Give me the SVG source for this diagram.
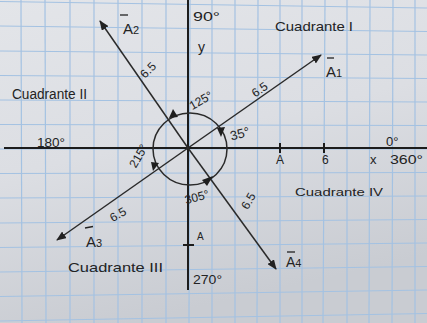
<svg xmlns="http://www.w3.org/2000/svg" width="427" height="323" viewBox="0 0 427 323">
<defs>
<linearGradient id="paper" x1="0" y1="0" x2="0.3" y2="1">
<stop offset="0" stop-color="#e3e5e9"/>
<stop offset="0.5" stop-color="#dcdee3"/>
<stop offset="1" stop-color="#c9ccd2"/>
</linearGradient>
<marker id="ah" viewBox="0 0 10 8" refX="9" refY="4" markerWidth="10" markerHeight="8" markerUnits="userSpaceOnUse" orient="auto">
<path d="M0,0 L10,4 L0,8 Z" fill="#222"/>
</marker>
<style>
.grid line{stroke:#a4c2e2;stroke-width:1.2}
.axis{stroke:#1c1c1c;stroke-width:2;fill:none}
.vec{stroke:#2a2a2a;stroke-width:1.5;fill:none}
.t{font-family:"Liberation Sans",Arial,sans-serif;fill:#232323}
.tri{fill:#1e1e1e}
</style>
</defs>
<rect x="0" y="0" width="427" height="323" fill="url(#paper)"/>
<g class="grid">
<line x1="21" y1="0" x2="22" y2="323"/>
<line x1="45" y1="0" x2="46" y2="323"/>
<line x1="70" y1="0" x2="70" y2="323"/>
<line x1="94" y1="0" x2="94" y2="323"/>
<line x1="118" y1="0" x2="118" y2="323"/>
<line x1="142" y1="0" x2="142" y2="323"/>
<line x1="166" y1="0" x2="166" y2="323"/>
<line x1="190" y1="0" x2="189" y2="323"/>
<line x1="212" y1="0" x2="212" y2="323"/>
<line x1="235" y1="0" x2="235" y2="323"/>
<line x1="258" y1="0" x2="257" y2="323"/>
<line x1="280" y1="0" x2="280" y2="323"/>
<line x1="302" y1="0" x2="302" y2="323"/>
<line x1="325" y1="0" x2="323" y2="323"/>
<line x1="347" y1="0" x2="347" y2="323"/>
<line x1="370" y1="0" x2="369" y2="323"/>
<line x1="393" y1="0" x2="392" y2="323"/>
<line x1="415" y1="0" x2="415" y2="323"/>
<line x1="0" y1="1.5" x2="427" y2="8"/>
<line x1="0" y1="26" x2="427" y2="31.5"/>
<line x1="0" y1="51" x2="427" y2="55"/>
<line x1="0" y1="75.5" x2="427" y2="78.5"/>
<line x1="0" y1="100" x2="427" y2="102"/>
<line x1="0" y1="124.5" x2="427" y2="125.5"/>
<line x1="0" y1="149" x2="427" y2="149"/>
<line x1="0" y1="173.5" x2="427" y2="172.5"/>
<line x1="0" y1="198" x2="427" y2="196"/>
<line x1="0" y1="223" x2="427" y2="219.5"/>
<line x1="0" y1="247.5" x2="427" y2="243"/>
<line x1="0" y1="272" x2="427" y2="266.5"/>
<line x1="0" y1="296.5" x2="427" y2="290"/>
<line x1="0" y1="321" x2="427" y2="313.5"/>
</g>
<g id="axes">
<line class="axis" x1="4" y1="148" x2="427" y2="148"/>
<line class="axis" x1="188" y1="0" x2="188" y2="290"/>
<line class="axis" x1="280" y1="143" x2="280" y2="153"/>
<line class="axis" x1="324" y1="143" x2="324" y2="153"/>
<line class="axis" x1="183" y1="245" x2="194" y2="245"/>
</g>
<g id="connectors">
<line class="vec" x1="188" y1="148" x2="321" y2="55" marker-end="url(#ah)"/>
<line class="vec" x1="188" y1="148" x2="100" y2="21" marker-end="url(#ah)"/>
<line class="vec" x1="188" y1="148" x2="57" y2="240" marker-end="url(#ah)"/>
<line class="vec" x1="188" y1="148" x2="276" y2="269" marker-end="url(#ah)"/>
</g>
<g id="angle-circle">
<ellipse cx="190" cy="149" rx="37" ry="36" fill="none" stroke="#2a2a2a" stroke-width="1.5"/>
<polygon class="tri" points="173,109 169,118 178,117"/>
<polygon class="tri" points="221,137 217,128 225,127"/>
<polygon class="tri" points="153,171 151,162 159,163"/>
<polygon class="tri" points="213,176 202,180 207,186"/>
</g>
<g id="labels">
<text class="t" x="193" y="21" font-size="13" textLength="27" lengthAdjust="spacingAndGlyphs">90°</text>
<text class="t" x="198" y="52" font-size="14">y</text>
<text class="t" x="275" y="31" font-size="13" textLength="78" lengthAdjust="spacingAndGlyphs">Cuadrante I</text>
<text class="t" x="12" y="99" font-size="14" textLength="75" lengthAdjust="spacingAndGlyphs">Cuadrante II</text>
<text class="t" x="68" y="272" font-size="13" textLength="95" lengthAdjust="spacingAndGlyphs">Cuadrante III</text>
<text class="t" x="295" y="196" font-size="11" textLength="88" lengthAdjust="spacingAndGlyphs">Cuadrante IV</text>
<text class="t" x="37" y="147" font-size="13" textLength="28" lengthAdjust="spacingAndGlyphs">180°</text>
<text class="t" x="386" y="146" font-size="13">0°</text>
<text class="t" x="276" y="164" font-size="12">A</text>
<text class="t" x="322" y="164" font-size="12">6</text>
<text class="t" x="370" y="164" font-size="13">x</text>
<text class="t" x="390" y="164" font-size="13" textLength="33" lengthAdjust="spacingAndGlyphs">360°</text>
<text class="t" x="193" y="284" font-size="13" textLength="29" lengthAdjust="spacingAndGlyphs">270°</text>
<text class="t" x="197" y="240" font-size="10">A</text>
<text class="t" font-size="12" text-anchor="middle" transform="translate(203,104) rotate(-30)">125°</text>
<text class="t" font-size="12" text-anchor="middle" transform="translate(142,158) rotate(-60)">215°</text>
<text class="t" font-size="13" text-anchor="middle" transform="translate(241,138) rotate(-15)">35°</text>
<text class="t" font-size="12" text-anchor="middle" transform="translate(198,201) rotate(-15)">305°</text>
</g>
<g id="v1">
<line x1="327" y1="58" x2="334" y2="58" stroke="#232323" stroke-width="1.3"/>
<text class="t" x="326" y="77" font-size="15">A<tspan font-size="11">1</tspan></text>
<text class="t" font-size="12" text-anchor="middle" transform="translate(262,93) rotate(-35)">6.5</text>
</g>
<g id="v2">
<line x1="120" y1="15" x2="128" y2="15" stroke="#232323" stroke-width="1.3"/>
<text class="t" x="123" y="34" font-size="15">A<tspan font-size="11">2</tspan></text>
<text class="t" font-size="12" text-anchor="middle" transform="translate(151,73) rotate(-45)">6.5</text>
</g>
<g id="v3">
<line x1="85" y1="228" x2="93" y2="226.5" stroke="#232323" stroke-width="1.3"/>
<text class="t" x="86" y="247" font-size="15">A<tspan font-size="11">3</tspan></text>
<text class="t" font-size="12" text-anchor="middle" transform="translate(120,218) rotate(-30)">6.5</text>
</g>
<g id="v4">
<line x1="287" y1="252" x2="295" y2="252" stroke="#232323" stroke-width="1.3"/>
<text class="t" x="286" y="267" font-size="14">A<tspan font-size="11">4</tspan></text>
<text class="t" font-size="12" text-anchor="middle" transform="translate(252,203) rotate(-60)">6.5</text>
</g>
</svg>
